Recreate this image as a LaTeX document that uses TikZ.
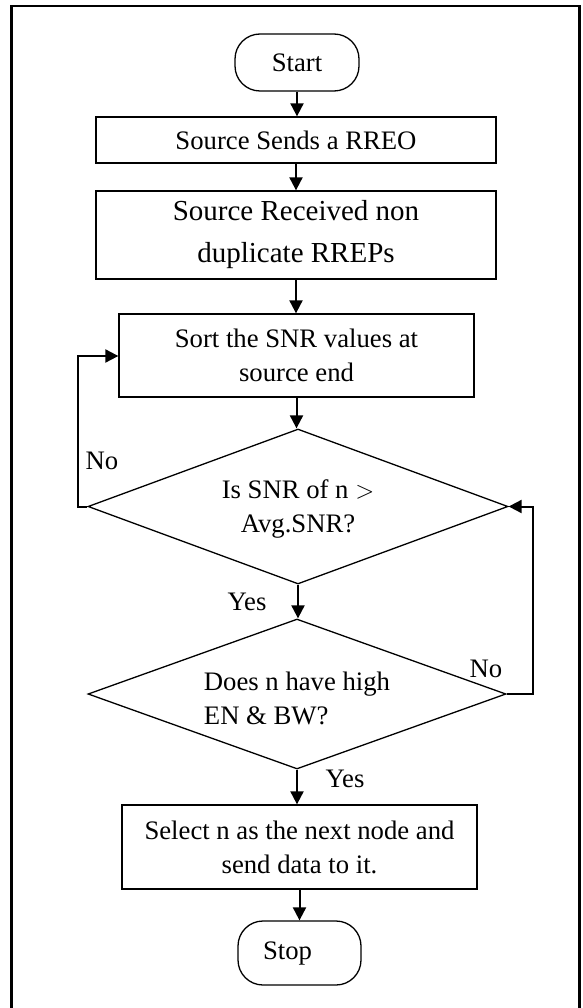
\documentclass[tikz,border=0pt]{standalone}
\usepackage{fontspec}
\setmainfont{Liberation Serif}
\usetikzlibrary{arrows.meta,shapes.geometric}
\tikzset{
  every node/.style={font=\fontsize{26.7}{34}\selectfont},
  procbox/.style={draw, line width=1.3pt, rectangle, inner sep=0pt, align=center},
  termbox/.style={draw, line width=1.3pt, rectangle, rounded corners=25pt, inner sep=0pt, align=center},
  decbox/.style={draw, line width=1.3pt, diamond, aspect=2.7, inner sep=0pt, minimum width=420pt, minimum height=155pt},
  lbl/.style={inner sep=0pt},
  flow/.style={line width=2pt, -{Triangle[length=13pt,width=13pt]}},
  frameline/.style={line width=2.4pt}
}
\begin{document}
\begin{tikzpicture}[x=1pt,y=-1pt]
\useasboundingbox (0,0) rectangle (582,1008);
\draw[frameline] (11.5,1012) -- (11.5,6) -- (579.5,6) -- (579.5,1012);

\node[termbox, minimum width=124pt, minimum height=57pt] (start) at (297,62.5) {Start};
\node[procbox, minimum width=400pt, minimum height=46pt] (rreq) at (296,140) {Source Sends a RREO};
\node[procbox, minimum width=400pt, minimum height=88pt, font=\fontsize{29}{42}\selectfont] (recv) at (296,235) {Source Received non\\duplicate RREPs};
\node[procbox, minimum width=355pt, minimum height=83pt] (sort) at (296.5,355.5) {Sort the SNR values at\\source end};
\node[decbox] (d1) at (298,506.5) {};
\node[align=center] (d1t) at (298,509) {Is SNR of n $>$\\Avg.SNR?};
\node[decbox, minimum width=418pt, minimum height=150pt] (d2) at (297,694) {};
\node[align=left] (d2t) at (297,698) {Does n have high\\EN \& BW?};
\node[procbox, minimum width=355pt, minimum height=84pt] (sel) at (299.5,847) {Select n as the next node and\\send data to it.};
\node[termbox, minimum width=123pt, minimum height=64pt, text width=123pt, align=center] (stop) at (299.5,953) {\hspace*{-24pt}Stop};

\node[lbl] (no1) at (102,461) {No};
\node[lbl] (yes1) at (247,602) {Yes};
\node[lbl] (no2) at (486,669) {No};
\node[lbl] (yes2) at (345,779) {Yes};

\coordinate (l1) at (78,506.5);
\coordinate (l2) at (78,356);
\coordinate (r1) at (533,694);
\coordinate (r2) at (533,506.5);

\draw[flow] (start.south) -- (start.south |- rreq.north);
\draw[flow] (rreq.south) -- (rreq.south |- recv.north);
\draw[flow] (recv.south) -- (recv.south |- sort.north);
\draw[flow] (sort.south) -- (sort.south |- d1.north);
\draw[flow] (d1.south) -- (d1.south |- d2.north);
\draw[flow] (d2.south) -- (d2.south |- sel.north);
\draw[flow] (sel.south) -- (sel.south |- stop.north);
\draw[flow] (d1.west) -- (l1) -- (l2) -- (l2 -| sort.west);
\draw[flow] (d2.east) -- (r1) -- (r2) -- (d1.east);
\end{tikzpicture}
\end{document}
